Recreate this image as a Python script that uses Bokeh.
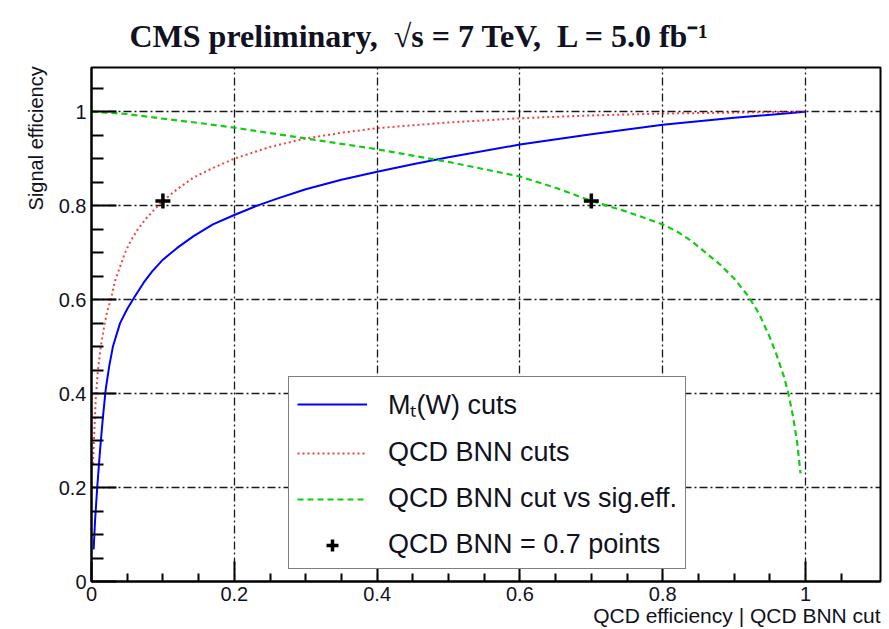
from bokeh.plotting import figure
from bokeh.models import (Range1d, FixedTicker, Legend, LegendItem)
from bokeh.embed import file_html
from bokeh.resources import INLINE

# ---- data ----
mt_x = [0.003, 0.005, 0.008, 0.012, 0.016, 0.02, 0.025, 0.03, 0.04, 0.05, 0.06, 0.073,
        0.085, 0.1, 0.12, 0.143, 0.17, 0.2, 0.232, 0.26, 0.3, 0.35, 0.4, 0.45, 0.5,
        0.6, 0.7, 0.8, 0.9, 1.0]
mt_y = [0.068, 0.13, 0.2, 0.28, 0.35, 0.41, 0.46, 0.5, 0.55, 0.58, 0.605, 0.636,
        0.66, 0.685, 0.71, 0.735, 0.76, 0.78, 0.8, 0.815, 0.835, 0.855, 0.872, 0.888, 0.903,
        0.93, 0.952, 0.972, 0.987, 1.0]

bnn_x = [0.002, 0.004, 0.006, 0.009, 0.013, 0.018, 0.022, 0.027, 0.033, 0.04, 0.047,
         0.055, 0.065, 0.075, 0.087, 0.1, 0.12, 0.143, 0.17, 0.2, 0.25, 0.3, 0.35, 0.4,
         0.5, 0.6, 0.7, 0.8, 0.9, 1.0]
bnn_y = [0.25, 0.32, 0.39, 0.45, 0.5, 0.545, 0.575, 0.6, 0.64, 0.67, 0.7,
         0.725, 0.75, 0.77, 0.79, 0.81, 0.835, 0.86, 0.88, 0.9, 0.925, 0.943, 0.955, 0.965,
         0.977, 0.986, 0.992, 0.996, 0.998, 1.0]

cut_x = [0.0, 0.05, 0.1, 0.15, 0.2, 0.3, 0.4, 0.5, 0.6, 0.65, 0.7, 0.75, 0.8, 0.82,
         0.84, 0.86, 0.88, 0.9, 0.92, 0.935, 0.95, 0.96, 0.97, 0.976, 0.982, 0.988, 0.993]
cut_y = [1.0, 0.995, 0.985, 0.976, 0.966, 0.943, 0.92, 0.893, 0.862, 0.838, 0.81, 0.787,
         0.76, 0.745, 0.725, 0.70, 0.675, 0.645, 0.607, 0.57, 0.52, 0.48, 0.435, 0.40,
         0.355, 0.30, 0.23]

pt_x = [0.1, 0.7]
pt_y = [0.81, 0.81]

x_major = [0, 0.2, 0.4, 0.6, 0.8, 1]
x_minor = [0.05, 0.1, 0.15, 0.25, 0.3, 0.35, 0.45, 0.5, 0.55, 0.65, 0.7, 0.75,
           0.85, 0.9, 0.95, 1.05]
y_major = [0, 0.2, 0.4, 0.6, 0.8, 1]
y_minor = [0.05, 0.1, 0.15, 0.25, 0.3, 0.35, 0.45, 0.5, 0.55, 0.65, 0.7, 0.75,
           0.85, 0.9, 0.95, 1.05]
tick_labels = ["0", "0.2", "0.4", "0.6", "0.8", "1"]

NB = "\u00a0"
title_text = ("CMS preliminary," + NB * 2 + "\u221as = 7 TeV," + NB * 2 +
              "L = 5.0 fb\u207b\u00b9")
x_title = "QCD efficiency | QCD BNN cut"
y_title = "Signal efficiency"
leg_labels = ["M\u209c(W) cuts", "QCD BNN cuts", "QCD BNN cut vs sig.eff.",
              "QCD BNN = 0.7 points"]

SANS = "Liberation Sans"
SERIF = "Liberation Serif"
INK = "#111122"

# ---- figure ----
FL, FR, FT, FB = 91, 880, 67, 582  # frame edges in page pixels
W, H = 889, 629
p = figure(width=W, height=H, output_backend="svg", toolbar_location=None,
           x_range=Range1d(0, 1.105), y_range=Range1d(0, 1.094),
           min_border_left=FL, min_border_right=W - FR,
           min_border_top=FT, min_border_bottom=H - FB,
           background_fill_color="white", border_fill_color="white",
           title=title_text)
p.outline_line_color = "black"
p.outline_line_width = 2

p.title.text_font = SERIF
p.title.text_font_style = "bold"
p.title.text_font_size = "32px"
p.title.text_color = INK
p.title.align = "left"
p.title.offset = 38
p.title.standoff = 28

# axis titles: centred by Bokeh, so pad the start with no-break spaces to push
# the visible words to the far end of the axis (as in the ROOT original)
x_pad = NB * 86
y_pad = NB * 67

for ax, maj, mino, tin, minin in ((p.xaxis[0], x_major, x_minor, 20, 8),
                                   (p.yaxis[0], y_major, y_minor, 25, 12)):
    ax.ticker = FixedTicker(ticks=maj, minor_ticks=mino)
    ax.major_label_overrides = {v: s for v, s in zip(maj, tick_labels)}
    ax.axis_line_color = "black"
    ax.axis_line_width = 2
    ax.major_tick_in = tin
    ax.major_tick_out = 0
    ax.minor_tick_in = minin
    ax.minor_tick_out = 0
    ax.major_tick_line_color = "black"
    ax.minor_tick_line_color = "black"
    ax.major_tick_line_width = 2
    ax.minor_tick_line_width = 2
    ax.major_label_text_font = SANS
    ax.major_label_text_font_size = "20px"
    ax.major_label_text_color = INK
    ax.major_label_standoff = 5
    ax.axis_label_text_font = SANS
    ax.axis_label_text_font_style = "normal"
    ax.axis_label_text_color = INK

p.xaxis[0].axis_label = x_pad + x_title
p.xaxis[0].axis_label_text_font_size = "21px"
p.xaxis[0].axis_label_standoff = 0
p.yaxis[0].axis_label = y_pad + y_title
p.yaxis[0].axis_label_text_font_size = "20px"
p.yaxis[0].axis_label_standoff = 9

for g, maj in ((p.xgrid[0], x_major), (p.ygrid[0], y_major)):
    g.ticker = FixedTicker(ticks=maj)
    g.grid_line_color = "black"
    g.grid_line_width = 1.3
    g.grid_line_dash = "8 3 2 3"
    g.grid_line_alpha = 0.9

r_mt = p.line(mt_x, mt_y, line_color="#0000ff", line_width=2)
r_bnn = p.line(bnn_x, bnn_y, line_color="#ee1111", line_width=2, line_dash="2 3", line_alpha=0.8)
r_cut = p.line(cut_x, cut_y, line_color="#11cc11", line_width=2.2, line_dash="6 4")
r_pt = p.scatter(pt_x, pt_y, marker="cross", size=15, line_color="black", line_width=3.5)

legend = Legend(items=[LegendItem(label=leg_labels[0], renderers=[r_mt]),
                       LegendItem(label=leg_labels[1], renderers=[r_bnn]),
                       LegendItem(label=leg_labels[2], renderers=[r_cut]),
                       LegendItem(label=leg_labels[3], renderers=[r_pt])],
                location=(288 - FL, FB - 570))
legend.padding = 8
legend.spacing = 15
legend.label_height = 30
legend.glyph_height = 30
legend.glyph_width = 70
legend.label_standoff = 21
legend.label_text_font = SANS
legend.label_text_font_size = "27px"
legend.label_text_color = INK
legend.border_line_color = "black"
legend.border_line_width = 1.5
legend.background_fill_color = "white"
legend.background_fill_alpha = 1
legend.margin = 0
p.add_layout(legend, "center")

open("out.html", "w").write(file_html(p, INLINE))
